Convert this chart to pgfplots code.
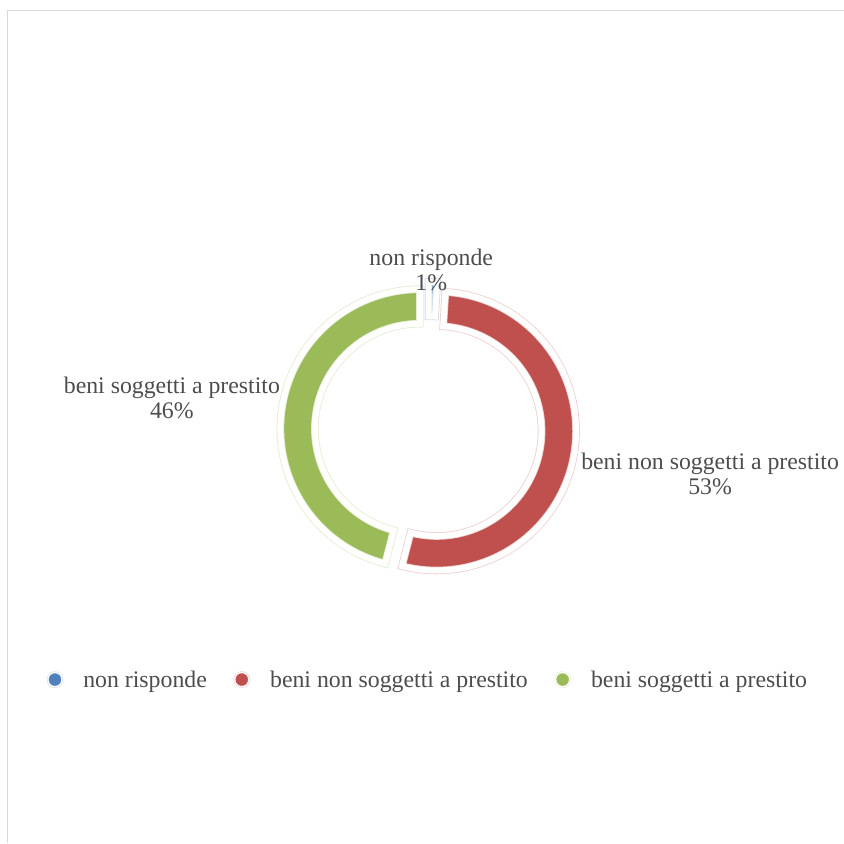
\documentclass[border=0pt]{standalone}
\usepackage{pgfplots}
\pgfplotsset{compat=1.18}
\usepackage{pgfplotstable}
\usepackage{fontspec}
\setmainfont{Liberation Serif}
\usetikzlibrary{calc}
\definecolor{cBlue}{HTML}{4F81BD}
\definecolor{cRed}{HTML}{C0504D}
\definecolor{cGreen}{HTML}{9BBB59}
\definecolor{txt}{RGB}{77,77,77}
\definecolor{framec}{RGB}{217,217,217}
\newcommand\lbl{\fontsize{23.8bp}{25bp}\selectfont}

% share of each slice (percent)
\pgfplotstableread{
value
1
53
46
}\donutdata

\begin{document}
\begin{tikzpicture}
\pgfplotstablegetelem{0}{value}\of\donutdata \pgfmathsetmacro\vA{\pgfplotsretval}
\pgfplotstablegetelem{1}{value}\of\donutdata \pgfmathsetmacro\vB{\pgfplotsretval}
\pgfplotstablegetelem{2}{value}\of\donutdata \pgfmathsetmacro\vC{\pgfplotsretval}
\pgfmathsetmacro\tot{\vA+\vB+\vC}
\pgfmathsetmacro\sA{90}
\pgfmathsetmacro\eA{\sA-\vA/\tot*360}
\pgfmathsetmacro\eB{\eA-\vB/\tot*360}
\pgfmathsetmacro\eC{\eB-\vC/\tot*360}
\pgfmathsetmacro\mA{(\sA+\eA)/2}
\pgfmathsetmacro\mB{(\eA+\eB)/2}
\pgfmathsetmacro\mC{(\eB+\eC)/2}
\newcommand\segpath[3]{($(axis cs:428.5,413)+(#3:8.5bp)+(#1:139.5bp)$) arc[start angle=#1, end angle=#2, radius=139.5bp] -- ($(axis cs:428.5,413)+(#3:8.5bp)+(#2:105bp)$) arc[start angle=#2, end angle=#1, radius=105bp] -- cycle}
\newcommand\seg[4]{%
  \path[fill=#4, draw=#4!28, line width=7.6bp] \segpath{#1}{#2}{#3};
  \draw[white, line width=6bp] \segpath{#1}{#2}{#3};
}
\begin{axis}[
  scale only axis, width=844bp, height=843bp,
  xmin=0, xmax=844, ymin=0, ymax=843,
  hide axis, clip=false,
  legend style={at={(axis cs:46.4,163)}, anchor=west, draw=none, fill=none,
    font=\lbl, text=txt, inner sep=0pt, nodes={inner sep=0pt},
    /tikz/every odd column/.append style={column sep=20bp},
    /tikz/every even column/.append style={column sep=26.5bp}},
  legend columns=-1,
]
\path (axis cs:0,0) rectangle (axis cs:844,843);
\draw[framec, line width=1bp] (axis cs:7.5,0) -- (axis cs:7.5,832.5) -- (axis cs:844,832.5);

\seg{\sA}{\eA}{\mA}{cBlue}
\seg{\eA}{\eB}{\mB}{cRed}
\seg{\eB}{\eC}{\mC}{cGreen}

\node[anchor=base, font=\lbl, text=txt] at (axis cs:431.5,577) {non risponde};
\node[anchor=base, font=\lbl, text=txt] at (axis cs:431.5,552) {1\%};
\node[anchor=base, font=\lbl, text=txt] at (axis cs:172,449.7) {beni soggetti a prestito};
\node[anchor=base, font=\lbl, text=txt] at (axis cs:172,424.7) {46\%};
\node[anchor=base, font=\lbl, text=txt] at (axis cs:710.5,373) {beni non soggetti a prestito};
\node[anchor=base, font=\lbl, text=txt] at (axis cs:710.5,348) {53\%};

\addlegendimage{legend image code/.code={\draw[cBlue!20, line width=0.8bp, fill=white] (0bp,0bp) circle (8bp); \fill[cBlue] (0bp,0bp) circle (6bp);}}
\addlegendentry{non risponde}
\addlegendimage{legend image code/.code={\draw[cRed!20, line width=0.8bp, fill=white] (0bp,0bp) circle (8bp); \fill[cRed] (0bp,0bp) circle (6bp);}}
\addlegendentry{beni non soggetti a prestito}
\addlegendimage{legend image code/.code={\draw[cGreen!20, line width=0.8bp, fill=white] (0bp,0bp) circle (8bp); \fill[cGreen] (0bp,0bp) circle (6bp);}}
\addlegendentry{beni soggetti a prestito}
\end{axis}
\end{tikzpicture}
\end{document}
